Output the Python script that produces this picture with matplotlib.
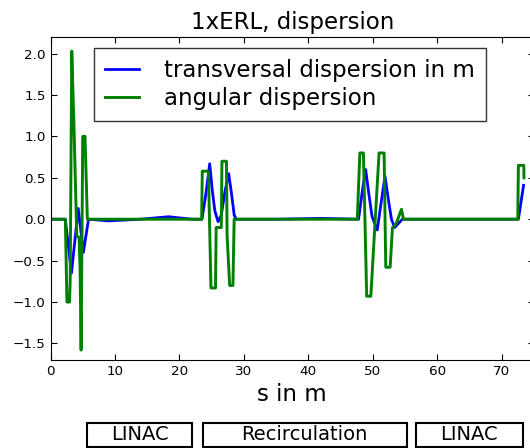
import numpy as np
import matplotlib
matplotlib.use('Agg')
import matplotlib.pyplot as plt
import matplotlib.transforms as mtransforms
from matplotlib.patches import Rectangle

# transversal dispersion (m)
s_disp = [0, 2.3, 3.25, 4.3, 5.1, 5.9, 9.0, 14.0, 18.3, 22.0,
          23.5, 24.1, 24.7, 25.1, 25.5, 26.0, 26.5, 27.1, 27.65, 28.1, 28.5, 28.8,
          35.0, 42.0, 47.8,
          48.4, 48.9, 49.4, 49.9, 50.7, 51.3, 51.9, 52.4, 52.9, 53.4, 54.0, 54.6,
          72.6, 73.4]
disp = [0, 0, -0.65, 0.13, -0.4, 0, -0.02, 0, 0.03, 0,
        0, 0.3, 0.67, 0.35, 0.1, -0.03, 0.05, 0.35, 0.55, 0.3, 0.05, 0,
        0, 0.01, 0,
        0.35, 0.6, 0.3, 0.03, -0.13, 0.2, 0.52, 0.25, 0, -0.1, -0.05, 0,
        0, 0.41]

# angular dispersion
s_ang = [0, 2.3, 2.55, 2.95, 3.05, 3.3, 3.65, 4.07, 4.43, 4.59, 4.75, 5.0, 5.35, 5.72,
         23.45, 23.55, 24.5, 24.9, 25.6, 25.7, 26.5, 26.6, 27.3, 27.4, 27.8, 28.3, 28.5,
         47.6, 48.0, 48.55, 49.06, 49.7, 50.98, 51.76, 52.02, 52.7, 53.06, 53.6, 54.46, 54.77,
         72.5, 72.6, 73.44, 73.46]
ang = [0, 0, -1.0, -1.0, -0.75, 2.03, 1.1, -0.2, -0.22, -0.6, -1.58, 1.0, 1.0, 0,
       0, 0.58, 0.58, -0.83, -0.83, -0.1, -0.1, 0.7, 0.7, -0.2, -0.8, -0.8, 0,
       0, 0.8, 0.8, -0.93, -0.93, 0.8, 0.8, -0.58, -0.58, -0.1, -0.06, 0.12, 0,
       0, 0.65, 0.65, 0.5]

sections = ['LINAC', 'Recirculation', 'LINAC']
section_start = [5.7, 23.6, 56.7]
section_end = [22.0, 55.3, 73.3]

plt.rcParams['xtick.direction'] = 'in'
plt.rcParams['ytick.direction'] = 'in'
plt.rcParams['xtick.top'] = True
plt.rcParams['ytick.right'] = True
plt.rcParams['xtick.major.size'] = 4
plt.rcParams['ytick.major.size'] = 4

fig = plt.figure(figsize=(5.3, 4.48), dpi=100)
ax = fig.add_axes([0.0953, 0.1964, 0.912, 0.721])
ax.plot(s_disp, disp, color='b', lw=2, label='transversal dispersion in m')
ax.plot(s_ang, ang, color='g', lw=2.1, label='angular dispersion')
ax.set_xlim(0, 75)
ax.set_ylim(-1.7, 2.2)
ax.set_xticks(np.arange(0, 71, 10))
ax.set_yticks(np.arange(-1.5, 2.01, 0.5))
ax.tick_params(labelsize=9.7)
ax.set_title('1xERL, dispersion', fontsize=16.5)
ax.set_xlabel('s in m', fontsize=16.5)

leg = ax.legend(loc='upper left', bbox_to_anchor=(0.089, 0.966), borderaxespad=0,
                fontsize=16.5, handlelength=1.5, handletextpad=1.1, labelspacing=0.22,
                borderpad=0.48, fancybox=False)
leg.get_frame().set_edgecolor('black')
leg.get_frame().set_linewidth(1.0)

trans = mtransforms.blended_transform_factory(ax.transData, ax.transAxes)
for name, a, b in zip(sections, section_start, section_end):
    ax.add_patch(Rectangle((a, -0.269), b - a, 0.074, transform=trans, clip_on=False,
                           facecolor='white', edgecolor='black', lw=1.5))
    ax.text((a + b) / 2, -0.232, name, transform=trans, ha='center', va='center',
            fontsize=14)

fig.savefig('out.png', dpi=100)
